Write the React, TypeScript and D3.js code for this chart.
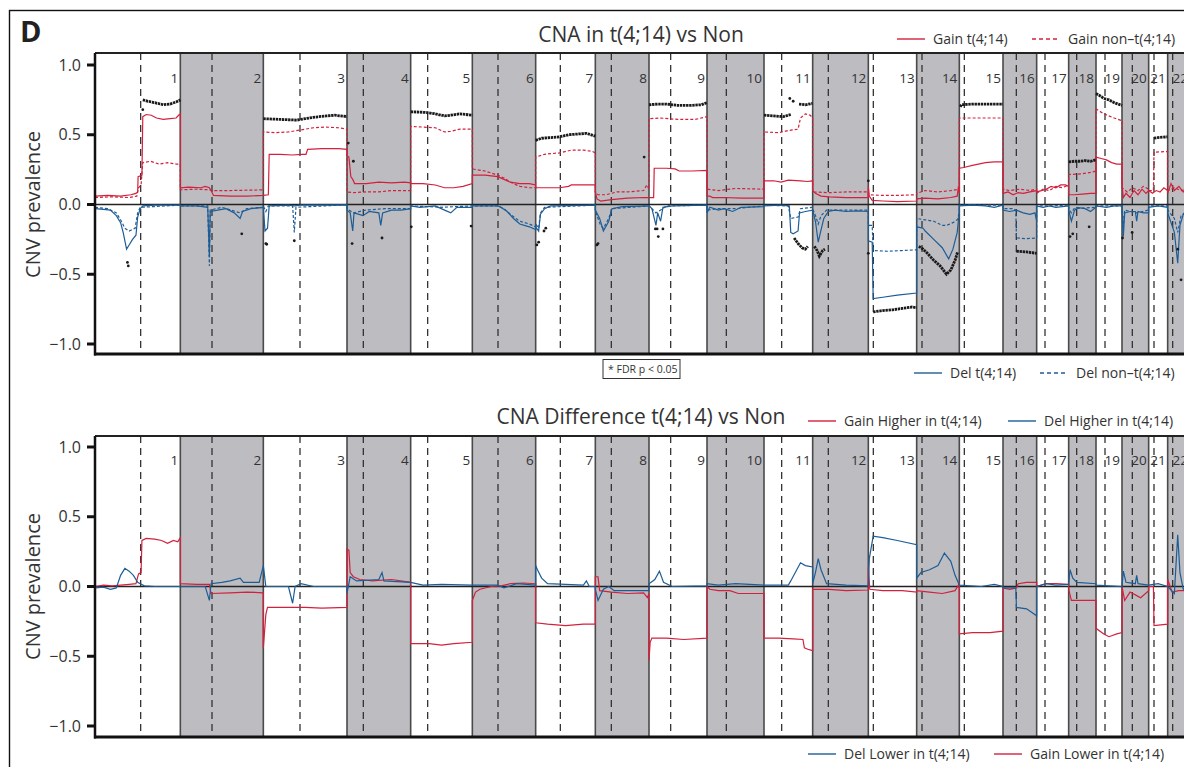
import * as d3 from 'd3';

// chromosome layout (relative widths as drawn, and centromere offset in the same units)
const chromNames = ['1', '2', '3', '4', '5', '6', '7', '8', '9', '10', '11', '12', '13', '14', '15', '16', '17', '18', '19', '20', '21', '22'];
const chromSize = [256, 249, 251, 191, 185, 190, 179, 161, 174, 171, 146, 167, 145, 128, 131, 101, 96, 82, 78, 80, 57, 67];
const centromere = [137, 95, 110, 49, 51, 77, 74, 48, 65, 58, 53, 47, 15, 16, 15, 40, 25, 24, 27, 31, 16, 15];

const yTicks = [1, 0.5, 0, -0.5, -1];
const yTickLabels = ['1.0', '0.5', '0.0', '\u22120.5', '\u22121.0'];

// each series: one list per chromosome of [percent along chromosome, prevalence]
const gainT = [
  [[0, 0.06], [15, 0.065], [30, 0.06], [42, 0.07], [48, 0.08], [50, 0.09], [50.5, 0.2], [55, 0.21], [56, 0.63], [60, 0.645], [66, 0.64], [72, 0.62], [80, 0.61], [88, 0.615], [95, 0.62], [98, 0.64], [100, 0.65]],
  [[0, 0.12], [10, 0.125], [25, 0.12], [30, 0.13], [35, 0.12], [37, 0.1], [40, 0.065], [60, 0.06], [80, 0.06], [100, 0.065]],
  [[0, 0.065], [6, 0.07], [7, 0.36], [20, 0.36], [35, 0.355], [45, 0.36], [51, 0.36], [53, 0.395], [70, 0.4], [90, 0.4], [100, 0.395]],
  [[0, 0.35], [3, 0.34], [6, 0.2], [9, 0.18], [12, 0.15], [30, 0.15], [50, 0.16], [70, 0.155], [90, 0.16], [100, 0.155]],
  [[0, 0.15], [20, 0.15], [40, 0.14], [55, 0.12], [70, 0.12], [85, 0.13], [100, 0.15]],
  [[0, 0.21], [20, 0.21], [40, 0.2], [50, 0.18], [60, 0.16], [75, 0.15], [90, 0.15], [100, 0.14]],
  [[0, 0.12], [20, 0.12], [40, 0.12], [55, 0.13], [60, 0.14], [80, 0.14], [100, 0.14]],
  [[0, 0.09], [3, 0.04], [10, 0.025], [30, 0.035], [60, 0.045], [90, 0.05], [100, 0.05]],
  [[0, 0.05], [8, 0.05], [9, 0.26], [30, 0.26], [45, 0.255], [52, 0.24], [75, 0.24], [100, 0.245]],
  [[0, 0.06], [5, 0.06], [10, 0.05], [30, 0.05], [60, 0.045], [100, 0.045]],
  [[0, 0.17], [20, 0.17], [35, 0.16], [50, 0.175], [75, 0.17], [90, 0.165], [100, 0.17]],
  [[0, 0.1], [5, 0.08], [15, 0.06], [30, 0.055], [60, 0.05], [90, 0.05], [100, 0.05]],
  [[0, 0.13], [2, 0.06], [8, 0.03], [30, 0.025], [60, 0.02], [100, 0.025]],
  [[0, 0.04], [20, 0.045], [50, 0.04], [80, 0.05], [95, 0.06], [98, 0.13], [100, 0.08]],
  [[0, 0.26], [10, 0.265], [30, 0.28], [60, 0.3], [80, 0.305], [100, 0.305]],
  [[0, 0.08], [15, 0.09], [30, 0.07], [45, 0.085], [60, 0.08], [80, 0.09], [100, 0.1]],
  [[0, 0.09], [15, 0.1], [30, 0.11], [45, 0.13], [60, 0.12], [75, 0.14], [90, 0.14], [100, 0.13]],
  [[0, 0.07], [20, 0.07], [50, 0.075], [80, 0.08], [100, 0.08]],
  [[0, 0.34], [20, 0.33], [40, 0.32], [60, 0.3], [80, 0.29], [100, 0.29]],
  [[0, 0.14], [5, 0.05], [15, 0.08], [30, 0.05], [45, 0.1], [60, 0.07], [75, 0.11], [90, 0.08], [100, 0.1]],
  [[0, 0.1], [20, 0.08], [40, 0.1], [60, 0.09], [80, 0.12], [100, 0.1]],
  [[0, 0.08], [15, 0.15], [30, 0.1], [50, 0.13], [70, 0.09], [100, 0.12]],
];

const gainNon = [
  [[0, 0.05], [20, 0.055], [40, 0.05], [49, 0.06], [51, 0.12], [54, 0.14], [56, 0.3], [65, 0.31], [75, 0.29], [85, 0.3], [95, 0.29], [100, 0.29]],
  [[0, 0.105], [20, 0.11], [36, 0.105], [38, 0.1], [60, 0.1], [100, 0.105]],
  [[0, 0.52], [15, 0.515], [30, 0.52], [45, 0.535], [60, 0.55], [75, 0.555], [90, 0.55], [100, 0.54]],
  [[0, 0.09], [10, 0.085], [30, 0.09], [50, 0.09], [70, 0.1], [100, 0.1]],
  [[0, 0.56], [20, 0.555], [40, 0.55], [55, 0.52], [65, 0.525], [80, 0.54], [100, 0.54]],
  [[0, 0.255], [20, 0.24], [40, 0.21], [50, 0.19], [60, 0.16], [75, 0.13], [90, 0.12], [100, 0.12]],
  [[0, 0.34], [15, 0.36], [40, 0.37], [60, 0.39], [80, 0.39], [95, 0.38], [100, 0.37]],
  [[0, 0.09], [5, 0.07], [20, 0.07], [40, 0.09], [60, 0.09], [90, 0.1], [96, 0.14], [100, 0.11]],
  [[0, 0.615], [20, 0.62], [50, 0.61], [80, 0.61], [100, 0.63]],
  [[0, 0.11], [20, 0.1], [50, 0.115], [100, 0.11]],
  [[0, 0.52], [30, 0.515], [50, 0.53], [70, 0.54], [75, 0.62], [85, 0.65], [95, 0.64], [100, 0.62]],
  [[0, 0.09], [30, 0.085], [60, 0.09], [100, 0.09]],
  [[0, 0.07], [30, 0.065], [60, 0.065], [100, 0.07]],
  [[0, 0.08], [20, 0.1], [50, 0.09], [80, 0.1], [100, 0.11]],
  [[0, 0.62], [30, 0.62], [60, 0.62], [100, 0.62]],
  [[0, 0.11], [20, 0.1], [50, 0.11], [80, 0.1], [100, 0.11]],
  [[0, 0.08], [20, 0.11], [40, 0.1], [60, 0.13], [80, 0.12], [100, 0.14]],
  [[0, 0.215], [50, 0.22], [80, 0.23], [100, 0.24]],
  [[0, 0.685], [30, 0.65], [70, 0.62], [100, 0.6]],
  [[0, 0.12], [20, 0.09], [40, 0.12], [60, 0.1], [80, 0.13], [100, 0.11]],
  [[0, 0.1], [25, 0.1], [28, 0.375], [100, 0.38]],
  [[0, 0.1], [30, 0.12], [60, 0.1], [100, 0.11]],
];

const delT = [
  [[0, -0.03], [10, -0.035], [18, -0.04], [25, -0.08], [30, -0.13], [33, -0.2], [37, -0.32], [40, -0.29], [44, -0.25], [48, -0.22], [50, -0.09], [53, -0.03], [56, -0.01], [70, -0.005], [100, -0.005]],
  [[0, -0.01], [20, -0.01], [33, -0.02], [35, -0.37], [36, -0.05], [45, -0.04], [55, -0.03], [65, -0.06], [72, -0.1], [75, -0.05], [85, -0.03], [100, -0.02]],
  [[0, -0.02], [2, -0.19], [5, -0.17], [7, -0.01], [30, -0.005], [37, -0.01], [45, -0.005], [100, -0.002]],
  [[0, -0.04], [5, -0.06], [9, -0.19], [11, -0.06], [25, -0.08], [35, -0.05], [50, -0.06], [53, -0.15], [56, -0.06], [70, -0.04], [85, -0.04], [100, -0.03]],
  [[0, -0.01], [15, -0.02], [40, -0.01], [55, -0.04], [65, -0.06], [75, -0.02], [100, -0.02]],
  [[0, -0.01], [40, -0.01], [45, -0.02], [55, -0.05], [65, -0.1], [75, -0.14], [90, -0.16], [100, -0.18]],
  [[0, -0.16], [5, -0.19], [8, -0.07], [15, -0.03], [25, -0.01], [100, -0.005]],
  [[0, -0.04], [8, -0.1], [15, -0.19], [25, -0.12], [31, -0.03], [50, -0.015], [100, -0.01]],
  [[0, -0.01], [5, -0.03], [12, -0.15], [15, -0.06], [20, -0.12], [24, -0.02], [40, -0.01], [100, -0.005]],
  [[0, -0.06], [5, -0.02], [20, -0.04], [30, -0.03], [45, -0.05], [60, -0.02], [100, -0.015]],
  [[0, -0.01], [35, -0.005], [52, -0.01], [55, -0.2], [60, -0.21], [70, -0.19], [73, -0.06], [85, -0.05], [100, -0.04]],
  [[0, -0.04], [5, -0.12], [10, -0.27], [14, -0.2], [20, -0.1], [28, -0.05], [40, -0.04], [60, -0.05], [80, -0.045], [100, -0.05]],
  [[0, -0.26], [8, -0.27], [10, -0.675], [30, -0.665], [60, -0.65], [100, -0.635]],
  [[0, -0.16], [15, -0.17], [20, -0.19], [40, -0.25], [60, -0.31], [75, -0.39], [85, -0.32], [95, -0.2], [100, -0.05]],
  [[0, -0.01], [30, -0.005], [60, -0.01], [80, -0.02], [100, -0.005]],
  [[0, -0.04], [20, -0.05], [40, -0.04], [60, -0.06], [80, -0.07], [95, -0.06], [100, -0.12]],
  [[0, -0.01], [20, -0.02], [40, -0.01], [60, -0.02], [100, -0.01]],
  [[0, -0.04], [10, -0.12], [20, -0.05], [30, -0.02], [60, -0.03], [80, -0.05], [100, -0.02]],
  [[0, -0.01], [40, -0.02], [70, -0.01], [100, -0.01]],
  [[0, -0.05], [5, -0.23], [10, -0.06], [30, -0.05], [50, -0.05], [55, -0.12], [60, -0.05], [80, -0.06], [100, -0.06]],
  [[0, -0.02], [50, -0.01], [100, -0.02]],
  [[0, -0.06], [30, -0.2], [45, -0.42], [55, -0.15], [70, -0.07], [100, -0.04]],
];

const delNon = [
  [[0, -0.02], [15, -0.03], [25, -0.06], [30, -0.11], [35, -0.17], [40, -0.19], [47, -0.17], [50, -0.06], [53, -0.02], [100, -0.005]],
  [[0, -0.01], [33, -0.01], [35, -0.44], [36, -0.04], [50, -0.02], [72, -0.06], [80, -0.03], [100, -0.02]],
  [[0, -0.01], [3, -0.05], [6, -0.01], [35, -0.01], [37, -0.2], [39, -0.02], [100, -0.002]],
  [[0, -0.03], [10, -0.06], [30, -0.04], [60, -0.03], [100, -0.03]],
  [[0, -0.01], [50, -0.02], [100, -0.01]],
  [[0, -0.01], [40, -0.01], [50, -0.03], [60, -0.07], [75, -0.12], [90, -0.14], [100, -0.16]],
  [[0, -0.14], [5, -0.17], [8, -0.06], [15, -0.02], [100, -0.005]],
  [[0, -0.05], [10, -0.15], [15, -0.17], [25, -0.1], [31, -0.03], [100, -0.01]],
  [[0, -0.01], [12, -0.06], [20, -0.04], [30, -0.01], [100, -0.005]],
  [[0, -0.04], [20, -0.03], [50, -0.03], [100, -0.01]],
  [[0, -0.005], [50, -0.01], [55, -0.1], [70, -0.09], [75, -0.03], [100, -0.02]],
  [[0, -0.03], [5, -0.08], [10, -0.14], [15, -0.08], [25, -0.04], [100, -0.04]],
  [[0, -0.15], [8, -0.15], [10, -0.33], [40, -0.335], [70, -0.33], [100, -0.325]],
  [[0, -0.1], [20, -0.11], [40, -0.12], [60, -0.15], [70, -0.15], [85, -0.13], [95, -0.11], [100, -0.06]],
  [[0, -0.005], [100, -0.005]],
  [[0, -0.03], [30, -0.03], [38, -0.04], [40, -0.24], [70, -0.245], [100, -0.24]],
  [[0, -0.01], [50, -0.01], [100, -0.005]],
  [[0, -0.03], [10, -0.06], [20, -0.03], [100, -0.02]],
  [[0, -0.01], [100, -0.01]],
  [[0, -0.03], [5, -0.14], [10, -0.04], [55, -0.06], [100, -0.04]],
  [[0, -0.01], [100, -0.01]],
  [[0, -0.04], [30, -0.1], [45, -0.2], [60, -0.08], [100, -0.03]],
];

// FDR-significant stretches: [chromosome, [percent, value] ...]
const sigRuns: [number, number[][]][] = [
  [1, [[56, 0.75], [62, 0.74], [70, 0.73], [80, 0.715], [88, 0.72], [95, 0.735], [100, 0.75]]],
  [3, [[0, 0.615], [20, 0.61], [40, 0.605], [50, 0.615], [60, 0.625], [75, 0.635], [85, 0.64], [100, 0.63]]],
  [5, [[0, 0.665], [25, 0.66], [40, 0.65], [55, 0.635], [65, 0.64], [80, 0.65], [100, 0.64]]],
  [7, [[0, 0.46], [10, 0.475], [25, 0.48], [40, 0.485], [55, 0.5], [70, 0.505], [85, 0.51], [100, 0.49]]],
  [9, [[0, 0.715], [15, 0.72], [30, 0.72], [50, 0.71], [70, 0.71], [90, 0.715], [100, 0.73]]],
  [11, [[0, 0.64], [20, 0.635], [40, 0.63], [55, 0.645]]],
  [11, [[72, 0.72], [85, 0.715], [100, 0.725]]],
  [15, [[2, 0.7], [5, 0.715], [30, 0.72], [60, 0.72], [100, 0.72]]],
  [18, [[0, 0.305], [20, 0.31], [40, 0.31], [60, 0.315], [80, 0.31], [100, 0.32]]],
  [19, [[0, 0.795], [15, 0.78], [30, 0.76], [50, 0.75], [70, 0.73], [85, 0.72], [100, 0.71]]],
  [21, [[28, 0.475], [50, 0.48], [100, 0.485]]],
  [11, [[62, -0.24], [70, -0.28], [78, -0.31], [85, -0.32], [90, -0.3]]],
  [12, [[3, -0.3], [8, -0.33], [12, -0.37], [18, -0.33], [22, -0.32]]],
  [13, [[10, -0.77], [30, -0.76], [50, -0.755], [70, -0.745], [90, -0.735], [100, -0.74]]],
  [14, [[5, -0.3], [15, -0.32], [25, -0.35], [40, -0.4], [55, -0.44], [70, -0.5], [80, -0.47], [90, -0.4], [96, -0.34]]],
  [16, [[40, -0.335], [70, -0.34], [100, -0.35]]],
];

// isolated significant probes: [chromosome, percent, value]
const sigDots = [
  [1, 38, -0.415], [1, 39, -0.44], [1, 56, 0.68], [2, 74, -0.21], [3, 3, -0.28], [3, 4, -0.285], [3, 37, -0.26],
  [4, 2, 0.44], [4, 10, 0.31], [4, 8, -0.28], [4, 55, -0.24], [5, 1, -0.16], [5, 98, -0.155],
  [7, 2, -0.29], [7, 5, -0.27], [7, 14, -0.19], [7, 17, -0.17], [8, 3, -0.29], [8, 5, -0.28], [8, 91, 0.34],
  [9, 11, -0.175], [9, 14, -0.175], [9, 16, -0.23], [9, 24, -0.175], [11, 53, 0.76], [11, 60, 0.74],
  [13, 0, 0.17], [13, 0, -0.35], [18, 5, -0.23], [18, 15, -0.21], [18, 75, -0.16],
  [20, 2, -0.24], [20, 38, -0.2], [22, 45, -0.32], [22, 60, -0.54],
];

const gainDiff = [
  [[0, 0.0], [10, 0.01], [20, 0.005], [30, 0.01], [40, 0.015], [48, 0.02], [51, 0.09], [54, 0.1], [55, 0.33], [60, 0.345], [70, 0.34], [78, 0.33], [85, 0.31], [92, 0.33], [97, 0.32], [100, 0.35]],
  [[0, 0.02], [20, 0.015], [35, 0.015], [37, -0.05], [60, -0.045], [80, -0.04], [100, -0.045]],
  [[0, -0.44], [3, -0.2], [5, -0.15], [30, -0.15], [50, -0.15], [70, -0.155], [100, -0.15]],
  [[0, 0.27], [3, 0.26], [5, 0.1], [10, 0.07], [20, 0.05], [40, 0.04], [70, 0.05], [100, 0.03]],
  [[0, -0.41], [30, -0.41], [50, -0.42], [70, -0.41], [100, -0.4]],
  [[0, -0.1], [5, -0.04], [12, -0.02], [30, 0.0], [45, 0.005], [60, 0.02], [80, 0.025], [100, 0.02]],
  [[0, -0.26], [20, -0.27], [50, -0.28], [80, -0.27], [100, -0.27]],
  [[0, 0.07], [5, 0.07], [8, -0.03], [30, -0.04], [60, -0.05], [90, -0.045], [97, -0.08], [100, -0.05]],
  [[0, -0.53], [2, -0.4], [5, -0.37], [30, -0.37], [60, -0.38], [100, -0.37]],
  [[0, 0.0], [5, -0.02], [20, -0.03], [40, -0.03], [55, -0.05], [100, -0.05]],
  [[0, -0.37], [30, -0.37], [60, -0.375], [80, -0.38], [83, -0.44], [90, -0.45], [100, -0.46]],
  [[0, -0.02], [30, -0.02], [60, -0.03], [100, -0.025]],
  [[0, 0.14], [3, -0.02], [30, -0.03], [70, -0.03], [100, -0.04]],
  [[0, -0.03], [30, -0.04], [60, -0.05], [90, -0.03], [100, 0.02]],
  [[0, -0.34], [30, -0.33], [70, -0.33], [100, -0.32]],
  [[0, -0.01], [20, -0.02], [40, -0.01], [45, 0.02], [70, 0.03], [100, 0.03]],
  [[0, 0.0], [30, 0.02], [60, 0.02], [100, 0.015]],
  [[0, -0.02], [10, -0.1], [50, -0.1], [100, -0.1]],
  [[0, -0.3], [30, -0.34], [50, -0.36], [80, -0.34], [100, -0.33]],
  [[0, 0.0], [10, -0.1], [30, -0.04], [50, -0.06], [70, -0.08], [100, -0.03]],
  [[0, 0.0], [25, 0.0], [28, -0.28], [100, -0.27]],
  [[0, 0.05], [20, -0.04], [50, -0.03], [100, -0.03]],
];

const delDiff = [
  [[0, -0.01], [10, -0.005], [18, -0.02], [25, -0.01], [30, 0.08], [35, 0.13], [40, 0.11], [45, 0.08], [50, 0.03], [53, 0.02], [58, 0.005], [70, 0.0], [100, 0.0]],
  [[0, 0.0], [30, 0.0], [35, -0.1], [37, 0.02], [50, 0.03], [60, 0.04], [72, 0.06], [76, 0.03], [95, 0.03], [100, 0.15]],
  [[0, 0.15], [3, 0.0], [30, 0.0], [35, -0.12], [38, 0.0], [45, 0.02], [60, 0.0], [100, 0.0]],
  [[0, -0.05], [5, 0.07], [15, 0.04], [50, 0.05], [55, 0.1], [58, 0.04], [100, 0.03]],
  [[0, 0.03], [20, 0.01], [50, 0.015], [100, 0.01]],
  [[0, 0.01], [40, 0.01], [50, -0.01], [70, 0.02], [100, 0.01]],
  [[0, 0.15], [3, 0.12], [10, 0.06], [20, 0.02], [80, 0.01], [85, 0.04], [90, 0.0], [100, 0.0]],
  [[0, -0.02], [5, -0.1], [15, -0.02], [25, 0.0], [35, -0.03], [100, -0.03]],
  [[0, 0.02], [10, 0.05], [18, 0.11], [25, 0.03], [40, 0.0], [100, 0.005]],
  [[0, 0.02], [20, 0.01], [50, 0.02], [100, 0.01]],
  [[0, 0.01], [50, 0.01], [55, 0.04], [75, 0.17], [85, 0.15], [100, 0.14]],
  [[0, 0.02], [5, 0.1], [10, 0.2], [15, 0.12], [25, 0.02], [60, 0.01], [100, 0.005]],
  [[0, 0.0], [2, 0.2], [10, 0.36], [30, 0.35], [60, 0.33], [100, 0.3]],
  [[0, 0.06], [10, 0.1], [30, 0.12], [50, 0.15], [65, 0.24], [80, 0.18], [90, 0.08], [100, 0.01]],
  [[0, 0.01], [50, 0.0], [80, 0.015], [100, 0.0]],
  [[0, -0.01], [38, -0.01], [40, -0.15], [70, -0.16], [100, -0.21]],
  [[0, 0.0], [30, 0.02], [60, 0.01], [100, 0.015]],
  [[0, 0.02], [5, 0.12], [15, 0.06], [30, 0.03], [100, 0.02]],
  [[0, 0.01], [50, 0.005], [100, 0.0]],
  [[0, 0.0], [5, 0.11], [15, 0.03], [50, 0.02], [55, 0.08], [60, 0.02], [100, 0.01]],
  [[0, 0.01], [50, 0.02], [100, 0.0]],
  [[0, 0.0], [30, -0.05], [45, 0.37], [55, 0.1], [70, -0.02], [100, 0.02]],
];

const RED = '#d3213d';
const BLUE = '#1d5d97';
const GREY_BAND = '#bcbcc1';
const FONT = '"Open Sans", "Noto Sans", sans-serif';

const chromStart = chromSize.map((_, i) => d3.sum(chromSize.slice(0, i)));
const total = d3.sum(chromSize);
const x = d3.scaleLinear().domain([0, total]).range([95, 1190]);

const pos = (ci: number, pct: number) => x(chromStart[ci] + (pct / 100) * chromSize[ci]);

const Legend = ({ items, y }: { items: { x: number; label: string; color: string; dash?: string }[]; y: number }) => (
  <g>
    {items.map((it) => (
      <g key={it.label}>
        <line x1={it.x} x2={it.x + 28} y1={y} y2={y} stroke={it.color} strokeWidth={1.4} strokeDasharray={it.dash} />
        <text x={it.x + 36} y={y} dy="0.35em" fontSize={14} fill="#333" fontFamily={FONT}>{it.label}</text>
      </g>
    ))}
  </g>
);

const Panel = ({ top, bottom, yHi, yLo, series, runs, dots, id }: any) => {
  const y = d3.scaleLinear().domain([-1, 1]).range([yLo, yHi]);
  const line = d3.line<number[]>().x((d) => d[0]).y((d) => d[1]);
  const toPath = (s: number[][][]) =>
    line(s.flatMap((pts, ci) => pts.map(([p, v]) => [pos(ci, p), y(v)])));

  return (
    <g>
      <defs>
        <clipPath id={id}>
          <rect x={95} y={top} width={1095} height={bottom - top} />
        </clipPath>
      </defs>
      <g clipPath={`url(#${id})`}>
        {chromNames.map((c, i) => (i % 2 === 1 ? (
          <rect key={c} x={x(chromStart[i])} y={top} width={x(chromStart[i] + chromSize[i]) - x(chromStart[i])} height={bottom - top} fill={GREY_BAND} />
        ) : null))}
        {chromNames.map((c, i) => (
          <line key={c} x1={x(chromStart[i] + chromSize[i])} x2={x(chromStart[i] + chromSize[i])} y1={top} y2={bottom} stroke="#4a4a4a" strokeWidth={1.6} />
        ))}
        {chromNames.map((c, i) => (
          <line key={c} x1={x(chromStart[i] + centromere[i])} x2={x(chromStart[i] + centromere[i])} y1={top} y2={bottom} stroke="#333" strokeWidth={1.3} strokeDasharray="7,5" />
        ))}
        {chromNames.map((c, i) => (
          <text key={c} x={x(chromStart[i] + chromSize[i]) - 2} y={y(1) + 18} textAnchor="end" fontSize={13.5} fill="#333" fontFamily={FONT}>{c}</text>
        ))}
        <line x1={95} x2={1190} y1={y(0)} y2={y(0)} stroke="#222" strokeWidth={1.6} />
        {series.map((s: any) => (
          <path key={s.key} d={toPath(s.data) || ''} fill="none" stroke={s.color} strokeWidth={1.2} strokeDasharray={s.dash} />
        ))}
        {runs && runs.map(([c, pts]: [number, number[][]], k: number) => (
          <path key={k} d={line(pts.map(([p, v]) => [pos(c - 1, p), y(v)])) || ''} fill="none" stroke="#1a1a1a" strokeWidth={2.8} strokeDasharray="2.4,0.7" />
        ))}
        {dots && dots.map(([c, p, v]: number[], k: number) => (
          <circle key={k} cx={pos(c - 1, p)} cy={y(v)} r={1.4} fill="#1a1a1a" />
        ))}
      </g>
      {/* frame */}
      <line x1={95} x2={1190} y1={top} y2={top} stroke="#222" strokeWidth={2} />
      <line x1={94} x2={1190} y1={bottom} y2={bottom} stroke="#111" strokeWidth={3} />
      <line x1={95} x2={95} y1={top} y2={bottom + 1.5} stroke="#111" strokeWidth={2.5} />
      {yTicks.map((t, i) => (
        <g key={t}>
          <line x1={87} x2={95} y1={y(t)} y2={y(t)} stroke="#111" strokeWidth={3} />
          <text x={81} y={y(t)} dy="0.35em" textAnchor="end" fontSize={16} fill="#333" fontFamily={FONT}>{yTickLabels[i]}</text>
        </g>
      ))}
      <text transform={`translate(40,${y(0)}) rotate(-90)`} textAnchor="middle" fontSize={20} fill="#333" fontFamily={FONT}>CNV prevalence</text>
    </g>
  );
};

export default function App() {
  return (
    <svg width={1184} height={767} style={{ position: 'absolute', left: 0, top: 0, background: '#fff' }}>
      <rect x={0} y={0} width={1184} height={767} fill="#fff" />
      <rect x={9.5} y={10.5} width={1300} height={900} fill="none" stroke="#111" strokeWidth={1.4} />
      <text x={20} y={42} fontSize={29} fontWeight="bold" fill="#222" fontFamily={FONT}>D</text>

      <text x={641} y={42} textAnchor="middle" fontSize={21} fill="#333" fontFamily={FONT}>CNA in t(4;14) vs Non</text>
      <Legend y={39} items={[
        { x: 897, label: 'Gain t(4;14)', color: RED },
        { x: 1032, label: 'Gain non\u2013t(4;14)', color: RED, dash: '4,3' },
      ]} />

      <Panel id="clipTop" top={53} bottom={354} yHi={65} yLo={344}
        series={[
          { key: 'gn', data: gainNon, color: RED, dash: '3,2' },
          { key: 'dn', data: delNon, color: BLUE, dash: '3,2' },
          { key: 'gt', data: gainT, color: RED },
          { key: 'dt', data: delT, color: BLUE },
        ]}
        runs={sigRuns} dots={sigDots} />

      <rect x={603} y={359.5} width={77} height={19} fill="#fff" stroke="#333" strokeWidth={1} />
      <text x={608} y={369} dy="0.35em" fontSize={10.5} fill="#333" fontFamily={FONT}>* FDR p &lt; 0.05</text>

      <Legend y={373} items={[
        { x: 914, label: 'Del t(4;14)', color: BLUE },
        { x: 1040, label: 'Del non\u2013t(4;14)', color: BLUE, dash: '4,3' },
      ]} />

      <text x={641} y={424} textAnchor="middle" fontSize={21} fill="#333" fontFamily={FONT}>CNA Difference t(4;14) vs Non</text>
      <Legend y={421} items={[
        { x: 808, label: 'Gain Higher in t(4;14)', color: RED },
        { x: 1008, label: 'Del Higher in t(4;14)', color: BLUE },
      ]} />

      <Panel id="clipBottom" top={436} bottom={737} yHi={447} yLo={726}
        series={[
          { key: 'gd', data: gainDiff, color: RED },
          { key: 'dd', data: delDiff, color: BLUE },
        ]} />

      <Legend y={754} items={[
        { x: 808, label: 'Del Lower in t(4;14)', color: BLUE },
        { x: 994, label: 'Gain Lower in t(4;14)', color: RED },
      ]} />
    </svg>
  );
}
